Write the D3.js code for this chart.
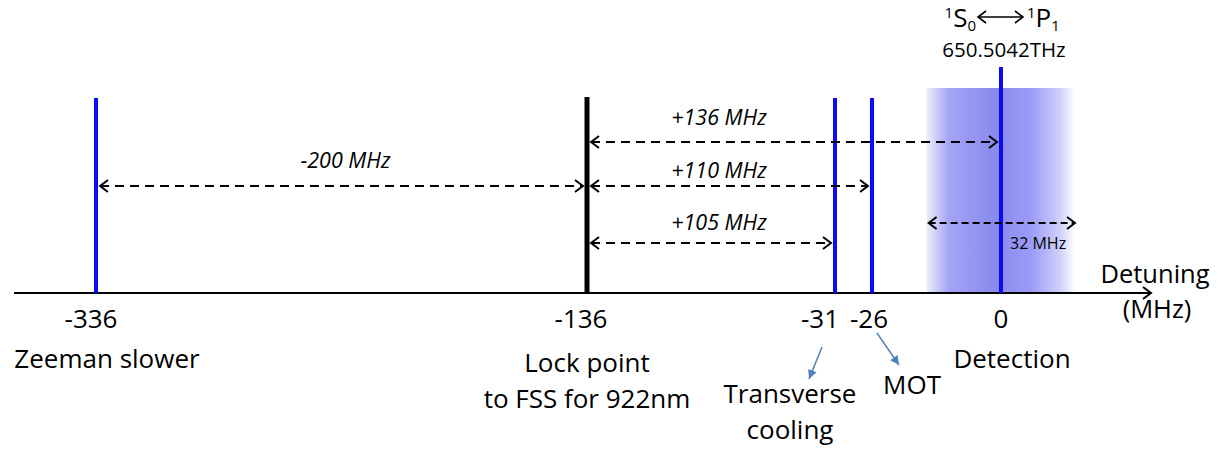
<!DOCTYPE html>
<html>
<head>
<meta charset="utf-8">
<script src="https://cdn.jsdelivr.net/npm/d3@7"></script>
<style>
  html, body { margin: 0; padding: 0; background: #fff; }
  svg { display: block; font-family: "Open Sans", Lato, sans-serif; }
</style>
</head>
<body>
<div id="chart"></div>
<script>
// detuning (MHz) of each laser line
const detunings = [-336, -136, -31, -26, 0];
const tickLabels = ['-336', '-136', '-31', '-26', '0'];
const lineKinds = ['blue', 'lock', 'blue', 'blue', 'probe'];
const lineNames = [['Zeeman slower'], ['Lock point', 'to FSS for 922nm'], ['Transverse', 'cooling'], ['MOT'], ['Detection']];

// frequency offsets drawn as dashed arrows
const spanFrom = [-336, -136, -136, -136];
const spanTo = [-136, 0, -26, -31];
const spanLabels = ['-200 MHz', '+136 MHz', '+110 MHz', '+105 MHz'];

// detection linewidth
const detectionWidth = 32;

const W = 1232, H = 454;
const svg = d3.select('#chart').append('svg')
  .attr('width', W)
  .attr('height', H);

// schematic (piecewise) frequency axis
const x = d3.scaleLinear()
  .domain([-370, -336, -136, -31, -26, 0, detectionWidth / 2, 33])
  .range([14, 96, 587, 835, 872, 1001, 1075, 1152]);

const axisY = 293;

const defs = svg.append('defs');
const grad = defs.append('linearGradient').attr('id', 'probe-grad');
[[0, '#ececfb'], [0.15, '#a4a4f5'], [0.45, '#8a8aef'], [0.7, '#9a9af6'], [0.9, '#d0d0fb'], [1, '#ffffff']]
  .forEach(([o, c]) => grad.append('stop').attr('offset', o).attr('stop-color', c));

function chevron(id, width) {
  defs.append('marker')
    .attr('id', id)
    .attr('viewBox', '-10 -8 12 16')
    .attr('refX', 0)
    .attr('refY', 0)
    .attr('markerWidth', 12)
    .attr('markerHeight', 16)
    .attr('markerUnits', 'userSpaceOnUse')
    .attr('orient', 'auto-start-reverse')
    .append('path')
    .attr('d', 'M-8,-6L0,0L-8,6')
    .attr('fill', 'none')
    .attr('stroke', '#000')
    .attr('stroke-width', width);
}
chevron('chev', 2);
chevron('thinchev', 1.6);

defs.append('marker')
  .attr('id', 'bluehead')
  .attr('viewBox', '-10 -6 12 12')
  .attr('refX', 0)
  .attr('refY', 0)
  .attr('markerWidth', 12)
  .attr('markerHeight', 12)
  .attr('markerUnits', 'userSpaceOnUse')
  .attr('orient', 'auto')
  .append('path')
  .attr('d', 'M-9,-4.5L0,0L-9,4.5Z')
  .attr('fill', '#4f81bd');

// Detection linewidth band
svg.append('rect')
  .attr('x', x(-detectionWidth / 2) + 5)
  .attr('y', 88)
  .attr('width', x(detectionWidth / 2) - x(-detectionWidth / 2) - 5)
  .attr('height', axisY - 88)
  .attr('fill', 'url(#probe-grad)');

// Axis line with arrow
svg.append('line')
  .attr('x1', x(-370))
  .attr('x2', x(33) - 1)
  .attr('y1', axisY)
  .attr('y2', axisY)
  .attr('stroke', '#000')
  .attr('stroke-width', 2)
  .attr('marker-end', 'url(#chev)');

svg.append('text')
  .attr('x', 1155)
  .attr('y', 283)
  .attr('text-anchor', 'middle')
  .attr('font-size', 25.5)
  .text('Detuning');
svg.append('text')
  .attr('x', 1157)
  .attr('y', 318)
  .attr('text-anchor', 'middle')
  .attr('font-size', 25.5)
  .text('(MHz)');

// Laser lines
const lineTop = { blue: 98, lock: 97, probe: 67 };
svg.append('g')
  .selectAll('line')
  .data(detunings)
  .join('line')
  .attr('x1', d => x(d))
  .attr('x2', d => x(d))
  .attr('y1', (d, i) => lineTop[lineKinds[i]])
  .attr('y2', axisY)
  .attr('stroke', (d, i) => lineKinds[i] === 'lock' ? '#000' : '#0a0af5')
  .attr('stroke-width', (d, i) => lineKinds[i] === 'lock' ? 5 : 4);

// Tick labels
const tickDx = [-5, -6, -15, -3, 0];
svg.append('g')
  .selectAll('text')
  .data(detunings)
  .join('text')
  .attr('x', (d, i) => x(d) + tickDx[i])
  .attr('y', 328)
  .attr('text-anchor', 'middle')
  .attr('font-size', 26)
  .text((d, i) => tickLabels[i]);

// Names under the ticks
const nameX = [11, 0, -45, 40, 11];
const nameY = [368, 372, 403, 394, 368];
const names = svg.append('g')
  .selectAll('text')
  .data(detunings)
  .join('text')
  .attr('x', (d, i) => x(d) + nameX[i])
  .attr('y', (d, i) => nameY[i])
  .attr('text-anchor', 'middle')
  .attr('font-size', 26);
names.selectAll('tspan')
  .data((d, i) => lineNames[i].map(t => ({ t, cx: x(d) + nameX[i] })))
  .join('tspan')
  .attr('x', d => d.cx)
  .attr('dy', (d, j) => j === 0 ? 0 : 36)
  .text(d => d.t);

// small pointer arrows for the closely spaced lines
svg.append('line')
  .attr('x1', x(-31) - 13).attr('y1', 347)
  .attr('x2', x(-31) - 26).attr('y2', 379)
  .attr('stroke', '#4f81bd').attr('stroke-width', 1.5)
  .attr('marker-end', 'url(#bluehead)');
svg.append('line')
  .attr('x1', x(-26) + 5).attr('y1', 333)
  .attr('x2', x(-26) + 27).attr('y2', 365)
  .attr('stroke', '#4f81bd').attr('stroke-width', 1.5)
  .attr('marker-end', 'url(#bluehead)');

// Dashed offset arrows
const spanRowY = [186, 142, 186, 243];
const spanTextY = [168, 125, 178, 230];
const spans = svg.append('g');
spans.selectAll('line')
  .data(spanLabels)
  .join('line')
  .attr('x1', (d, i) => x(spanFrom[i]) + 4)
  .attr('x2', (d, i) => x(spanTo[i]) - 4)
  .attr('y1', (d, i) => spanRowY[i])
  .attr('y2', (d, i) => spanRowY[i])
  .attr('stroke', '#000')
  .attr('stroke-width', 2)
  .attr('stroke-dasharray', '9,6')
  .attr('marker-start', 'url(#chev)')
  .attr('marker-end', 'url(#chev)');
spans.selectAll('text')
  .data(spanLabels)
  .join('text')
  .attr('x', (d, i) => i === 0 ? (x(spanFrom[i]) + x(spanTo[i])) / 2 + 4 : 719)
  .attr('y', (d, i) => spanTextY[i])
  .attr('text-anchor', 'middle')
  .attr('font-size', 21.5)
  .attr('font-style', 'italic')
  .text(d => d);

// detection linewidth arrow
svg.append('line')
  .attr('x1', x(-detectionWidth / 2) + 7)
  .attr('x2', x(detectionWidth / 2))
  .attr('y1', 223)
  .attr('y2', 223)
  .attr('stroke', '#000')
  .attr('stroke-width', 2)
  .attr('stroke-dasharray', '7,4')
  .attr('marker-start', 'url(#chev)')
  .attr('marker-end', 'url(#chev)');
svg.append('text')
  .attr('x', x(0) + 9)
  .attr('y', 249)
  .attr('font-size', 16)
  .text(detectionWidth + ' MHz');

// transition label: 1S0 <-> 1P1
const left = svg.append('text')
  .attr('x', x(0) - 25)
  .attr('y', 27)
  .attr('text-anchor', 'end')
  .attr('font-size', 26);
left.append('tspan').attr('font-size', 15).attr('dy', -9).text('1');
left.append('tspan').attr('dy', 9).text('S');
left.append('tspan').attr('font-size', 15).attr('dy', 4).text('0');

const right = svg.append('text')
  .attr('x', x(0) + 26)
  .attr('y', 27)
  .attr('font-size', 26);
right.append('tspan').attr('font-size', 15).attr('dy', -9).text('1');
right.append('tspan').attr('dy', 9).text('P');
right.append('tspan').attr('font-size', 15).attr('dy', 4).text('1');

svg.append('line')
  .attr('x1', x(0) - 23)
  .attr('x2', x(0) + 22)
  .attr('y1', 17)
  .attr('y2', 17)
  .attr('stroke', '#000')
  .attr('stroke-width', 1.6)
  .attr('marker-start', 'url(#thinchev)')
  .attr('marker-end', 'url(#thinchev)');

svg.append('text')
  .attr('x', x(0) + 3)
  .attr('y', 57)
  .attr('text-anchor', 'middle')
  .attr('font-size', 20.5)
  .text('650.5042THz');
</script>
</body>
</html>
